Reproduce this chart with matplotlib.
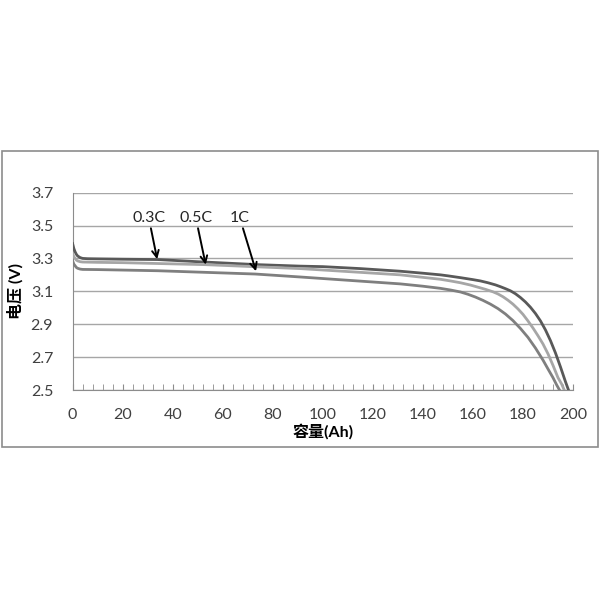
import matplotlib.pyplot as plt
import matplotlib.patches as mpatches
from matplotlib.ticker import MultipleLocator

plt.rcParams['font.family'] = ['Lato', 'Noto Sans CJK SC', 'DejaVu Sans']

# discharge curves
cap_03 = [0, 0.5, 1, 1.5, 2, 3, 4, 6, 10, 20, 34, 50, 74, 91, 100, 115, 131, 140, 147, 150,
          155, 160, 163, 166, 169, 171, 173, 175, 177, 179, 181, 183, 185, 187, 189, 191,
          193, 195, 197, 198.2]
v_03 = [3.39, 3.36, 3.34, 3.325, 3.315, 3.305, 3.30, 3.298, 3.297, 3.295, 3.293, 3.28, 3.262,
        3.253, 3.25, 3.238, 3.222, 3.21, 3.20, 3.194, 3.183, 3.171, 3.163, 3.152, 3.139, 3.128,
        3.116, 3.103, 3.085, 3.062, 3.035, 3.003, 2.965, 2.92, 2.865, 2.80, 2.725, 2.64, 2.55,
        2.50]

cap_05 = [0, 0.5, 1, 1.5, 2, 3, 4, 10, 20, 53, 91, 131, 147, 151, 155, 159, 162, 165, 168,
          170, 172, 174, 176, 178, 180, 182, 184, 186, 188, 190, 192, 194, 195.5, 196.5]
v_05 = [3.33, 3.31, 3.30, 3.29, 3.285, 3.28, 3.278, 3.276, 3.274, 3.262, 3.238, 3.20, 3.173,
        3.163, 3.152, 3.138, 3.125, 3.112, 3.097, 3.084, 3.067, 3.046, 3.022, 2.993, 2.96,
        2.92, 2.877, 2.83, 2.78, 2.72, 2.65, 2.575, 2.535, 2.50]

cap_1 = [0, 0.5, 1, 1.5, 2, 3, 4, 10, 34, 73, 91, 131, 140, 147, 151, 155, 158, 161, 164,
         167, 170, 173, 176, 179, 182, 185, 188, 190, 192, 193.5, 194.6]
v_1 = [3.285, 3.265, 3.255, 3.245, 3.24, 3.235, 3.233, 3.232, 3.225, 3.205, 3.187, 3.145,
       3.131, 3.118, 3.108, 3.096, 3.082, 3.065, 3.045, 3.022, 2.995, 2.962, 2.922, 2.874,
       2.82, 2.755, 2.682, 2.628, 2.575, 2.53, 2.50]

labels = ['0.3C', '0.5C', '1C']
label_x = [30.5, 49.3, 66.9]
tail_x = [31.2, 50.2, 68.6]
head_x = [33.8, 53.2, 73.3]
head_y = [3.295, 3.262, 3.222]

fig = plt.figure(figsize=(6, 6), dpi=100)
# outer chart frame
fig.patches.append(mpatches.Rectangle((0.003, 0.255), 0.994, 0.493, transform=fig.transFigure,
                                      fill=False, edgecolor='#8c8c8c', linewidth=1.2))
ax = fig.add_axes([0.121, 0.35, 0.834, 0.329])

ax.plot(cap_03, v_03, color='#595959', lw=2.0, zorder=3)
ax.plot(cap_05, v_05, color='#a6a6a6', lw=2.0, zorder=3)
ax.plot(cap_1, v_1, color='#7f7f7f', lw=2.0, zorder=3)

for i in range(3):
    ax.annotate(labels[i], xy=(head_x[i], head_y[i]), xytext=(tail_x[i], 3.485),
                ha='center', va='bottom', fontsize=11.5, color='#262626',
                arrowprops=dict(arrowstyle='->', color='black', lw=1.4, shrinkA=0, shrinkB=0,
                                mutation_scale=12))
# move label text a bit above the arrow tail
for t, lx in zip(ax.texts, label_x):
    t.set_position((lx, 3.50))

ax.set_xlim(0, 200)
ax.set_ylim(2.5, 3.7)
ax.xaxis.set_major_locator(MultipleLocator(20))
ax.xaxis.set_minor_locator(MultipleLocator(4))
ax.set_yticks([2.5, 2.7, 2.9, 3.1, 3.3, 3.5, 3.7])
ax.set_yticklabels(['2.5', '2.7', '2.9', '3.1', '3.3', '3.5', '3.7'])
ax.grid(axis='y', color='#a6a6a6', lw=1.0)
ax.set_axisbelow(True)
ax.tick_params(axis='x', which='both', direction='in', length=4, color='#8c8c8c',
               labelsize=11.5, labelcolor='#404040', pad=13)
ax.tick_params(axis='y', length=0, labelsize=11.5, labelcolor='#404040', pad=14)
for s in ['top', 'right']:
    ax.spines[s].set_visible(False)
for s in ['left', 'bottom']:
    ax.spines[s].set_color('#8c8c8c')

ax.set_xlabel('容量(Ah)', fontsize=11.5, fontweight='bold', labelpad=1)
ax.set_ylabel('电压 (V)', fontsize=11.5, fontweight='bold', labelpad=5)

fig.savefig('out.png', dpi=100)
